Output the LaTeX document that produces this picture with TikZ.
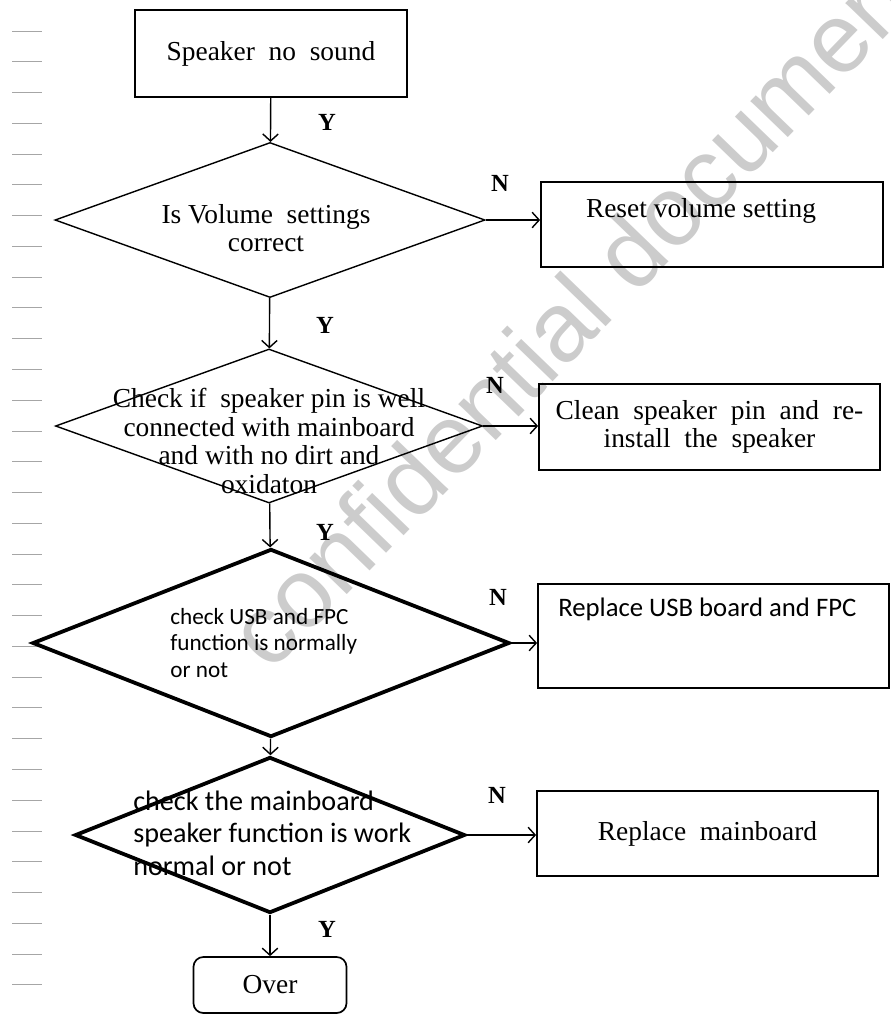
\documentclass[tikz,border=0pt]{standalone}
\usepackage{fontspec}
\setmainfont{Liberation Serif}
\newfontfamily\calibri{Carlito}
\newfontfamily\markfont{Liberation Sans}
\usetikzlibrary{shapes.geometric,arrows.meta}

\begin{document}
\begin{tikzpicture}[x=0.025cm,y=-0.025cm,
  box/.style={draw,line width=1.2pt,inner sep=0pt,align=center,font=\fontsize{19.5}{20}\selectfont},
  decision/.style={draw,diamond,inner sep=0pt,line width=1pt},
  bolddecision/.style={draw,diamond,inner sep=0pt,line width=2.7pt},
  flow/.style={line width=1pt,-{Straight Barb[length=5pt,width=11pt]}},
  yn/.style={font=\fontsize{17.5}{17.5}\selectfont\bfseries},
  serif/.style={align=center,inner sep=0pt,font=\fontsize{19.5}{20.3}\selectfont},
  sans/.style={align=left,anchor=west,inner sep=0pt},
  tick/.style={gray!70,line width=0.7pt}]

\useasboundingbox (0,0) rectangle (891,1014);

\node[rotate=46,text=gray!40,font=\markfont\fontsize{70}{70}\selectfont] (wm) at (578,305) {confidential document};

\foreach \i in {0,...,31}
  \draw[tick] (12,31+\i*30.77) -- (42,31+\i*30.77);

\coordinate (s) at (271,53.5);
\coordinate (c1) at (270,220);
\coordinate (c2) at (269,426);
\coordinate (c3) at (271,643);
\coordinate (c4) at (270,835);
\coordinate (e) at (270,985);
\coordinate (r1) at (712,224.5);
\coordinate (r2) at (709.5,427);
\coordinate (r3) at (713.5,636);
\coordinate (r4) at (707.5,833.5);

\node[box,minimum width=6.8cm,minimum height=2.175cm] (start) at (s) {Speaker\ \ no\ \ sound};
\node[decision,minimum width=10.75cm,minimum height=3.875cm] (vol) at (c1) {};
\node[decision,minimum width=10.675cm,minimum height=3.85cm] (pin) at (c2) {};
\node[bolddecision,minimum width=11.925cm,minimum height=4.7cm] (usb) at (c3) {};
\node[bolddecision,minimum width=9.75cm,minimum height=3.9cm] (mb) at (c4) {};
\node[box,rounded corners=7pt,minimum width=3.825cm,minimum height=1.4cm] (over) at (e) {Over};

\node[box,minimum width=8.55cm,minimum height=2.125cm] (reset) at (r1) {};
\node[box,minimum width=8.525cm,minimum height=2.15cm] (clean) at (r2) {Clean\ \ speaker\ \ pin\ \ and\ \ re-\\install\ \ the\ \ speaker};
\node[box,minimum width=8.775cm,minimum height=2.6cm] (repusb) at (r3) {};
\node[box,minimum width=8.525cm,minimum height=2.125cm] (repmb) at (r4) {Replace\ \ mainboard};

\node[serif] (volt) at (266,228) {Is Volume\ \ settings\\correct};
\node[serif] (pint) at (269,441) {Check if\ \ speaker pin is well\\connected with mainboard\\and with no dirt and\\oxidaton};
\node[sans,font=\calibri\fontsize{16.5}{18.8}\selectfont] (usbt) at (170,643) {check USB and FPC\\function is normally\\or not};
\node[sans,font=\calibri\fontsize{20}{23}\selectfont] (mbt) at (133,833) {check the mainboard\\speaker function is work\\normal or not};
\node[serif] (resett) at (701,211) {Reset volume setting};
\node[sans,font=\calibri\fontsize{19}{19}\selectfont] (repusbt) at (558,609) {Replace USB board and FPC};

\draw[flow] (start) -- (vol);
\draw[flow] (vol) -- (pin);
\draw[flow] (pin) -- (usb);
\draw[flow] (usb) -- (mb);
\draw[flow] (mb) -- (over);
\draw[flow] (vol.east) -- (vol.east -| reset.west);
\draw[flow] (pin.east) -- (pin.east -| clean.west);
\draw[flow] (usb.east) -- (usb.east -| repusb.west);
\draw[flow] (mb.east) -- (mb.east -| repmb.west);

\node[yn] at (327,122) {Y};
\node[yn] at (325,325) {Y};
\node[yn] at (325,532) {Y};
\node[yn] at (327,929) {Y};
\node[yn] at (500,183) {N};
\node[yn] at (495,385) {N};
\node[yn] at (498,597) {N};
\node[yn] at (497,795) {N};

\end{tikzpicture}
\end{document}
